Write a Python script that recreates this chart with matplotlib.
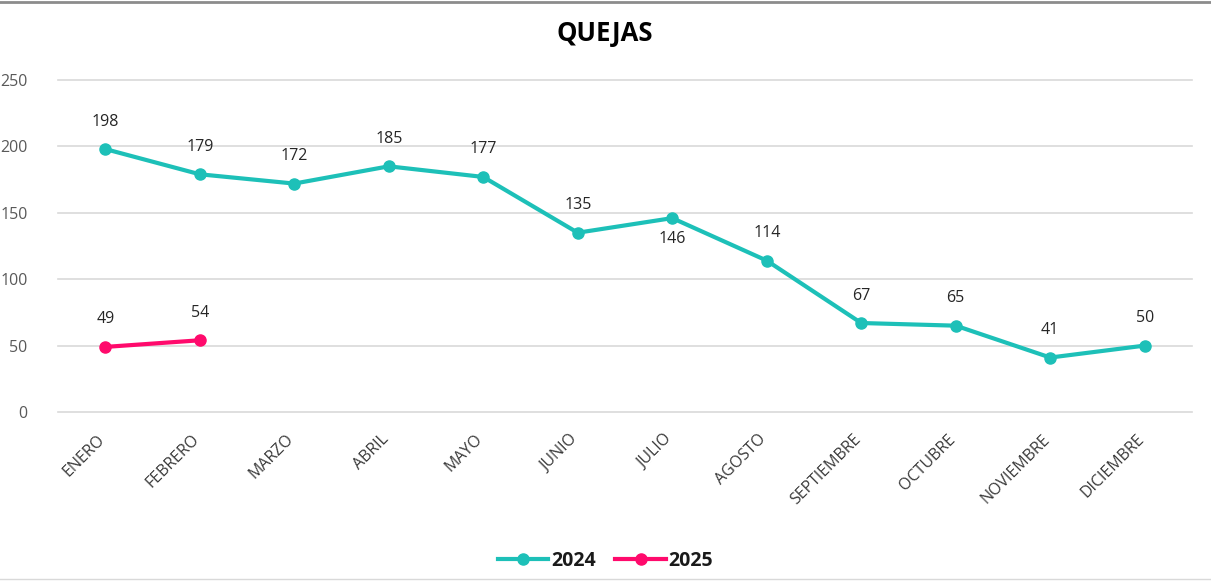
import matplotlib.pyplot as plt
from matplotlib.lines import Line2D
from matplotlib.transforms import ScaledTranslation

months = ['ENERO', 'FEBRERO', 'MARZO', 'ABRIL', 'MAYO', 'JUNIO', 'JULIO',
          'AGOSTO', 'SEPTIEMBRE', 'OCTUBRE', 'NOVIEMBRE', 'DICIEMBRE']
quejas_2024 = [198, 179, 172, 185, 177, 135, 146, 114, 67, 65, 41, 50]
quejas_2025 = [49, 54]
yticks = [0, 50, 100, 150, 200, 250]

teal = '#1DC0B8'
pink = '#FF0A6C'

plt.rcParams['font.family'] = ['Open Sans', 'DejaVu Sans']

fig = plt.figure(figsize=(12.11, 5.81), dpi=100)
ax = fig.add_axes([0.0479, 0.2909, 0.9364, 0.5714])

x24 = list(range(len(quejas_2024)))
x25 = list(range(len(quejas_2025)))
ax.plot(x24, quejas_2024, color=teal, lw=3, marker='o', ms=8, label='2024')
ax.plot(x25, quejas_2025, color=pink, lw=3, marker='o', ms=8, label='2025')

# data labels (JULIO sits below the point)
def label(i, v, below=False):
    if below:
        ax.annotate(str(v), (i, v), xytext=(0, -9), textcoords='offset points',
                    ha='center', va='top', fontsize=11.5, color='#262626')
    else:
        ax.annotate(str(v), (i, v), xytext=(0, 14), textcoords='offset points',
                    ha='center', va='bottom', fontsize=11.5, color='#262626')

for i, v in enumerate(quejas_2024):
    label(i, v, below=(months[i] == 'JULIO'))
for i, v in enumerate(quejas_2025):
    label(i, v)

ax.set_xlim(-0.5, len(months) - 0.5)
ax.set_ylim(0, 250)
ax.set_yticks(yticks)
ax.set_xticks(x24)
ax.set_xticklabels(months, rotation=45, ha='right', rotation_mode='anchor')
ax.tick_params(axis='both', length=0, labelsize=11.5)
ax.tick_params(axis='x', pad=14, labelcolor='#3a3a3a')
ax.tick_params(axis='y', pad=22, labelcolor='#595959')
# nudge the rotated month labels a little left, like the original
shift = ScaledTranslation(-6 / 72, 0, fig.dpi_scale_trans)
for lbl in ax.get_xticklabels():
    lbl.set_transform(lbl.get_transform() + shift)
ax.grid(axis='y', color='#D9D9D9', lw=1.2)
for gl in ax.get_ygridlines():
    gl.set_clip_on(False)
ax.set_axisbelow(True)
for s in ax.spines.values():
    s.set_visible(False)

fig.text(0.499, 0.942, 'QUEJAS', ha='center', va='center', fontsize=18.5,
         fontweight='bold', color='#000000')

leg = fig.legend(loc='center', bbox_to_anchor=(0.5, 0.034), ncol=2, frameon=False,
                 prop={'weight': 'bold', 'size': 14}, handlelength=2.6,
                 columnspacing=1.0, handletextpad=0.15)
for t in leg.get_texts():
    t.set_color('#1a1a1a')

# chart frame: dark line on top, light line at the bottom
fig.add_artist(Line2D([0, 1], [0.997, 0.997], transform=fig.transFigure, color='#8C8C8C', lw=2))
fig.add_artist(Line2D([0, 1], [0.004, 0.004], transform=fig.transFigure, color='#D9D9D9', lw=1))

fig.savefig('out.png', dpi=100)
